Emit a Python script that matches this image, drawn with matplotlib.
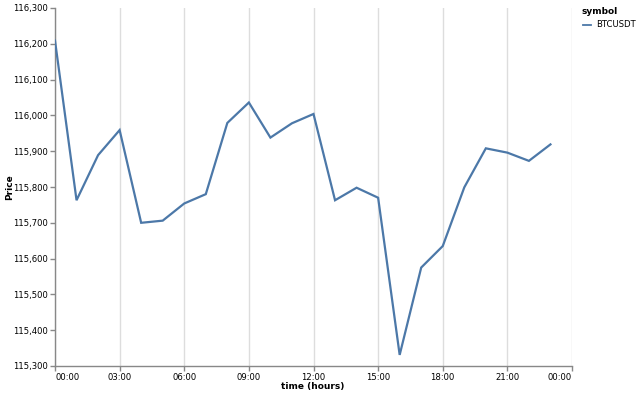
import matplotlib
matplotlib.use("Agg")
import matplotlib.pyplot as plt
from matplotlib.ticker import FuncFormatter
from matplotlib.lines import Line2D

hours = list(range(24))
price = [116209, 115763, 115889, 115959, 115700, 115706, 115754, 115780,
         115979, 116036, 115938, 115978, 116004, 115763, 115798, 115770,
         115331, 115575, 115635, 115799, 115908, 115896, 115873, 115919]
x_ticks = [0, 3, 6, 9, 12, 15, 18, 21, 24]
x_tick_labels = ["00:00", "03:00", "06:00", "09:00", "12:00", "15:00", "18:00", "21:00", "00:00"]
y_ticks = [115300, 115400, 115500, 115600, 115700, 115800, 115900, 116000, 116100, 116200, 116300]
series_name = "BTCUSDT"

plt.rcParams['font.family'] = ['DejaVu Sans']
W, H = 640, 395
fig = plt.figure(figsize=(W / 100, H / 100), dpi=100)
ax = fig.add_axes([55 / W, (H - 366) / H, (572 - 55) / W, (366 - 8) / H])

line_color = "#4c78a8"
ax.plot(hours, price, color=line_color, lw=1.6, solid_joinstyle="miter", zorder=3)

ax.set_xlim(0, 24)
ax.set_ylim(115300, 116300)
ax.set_xticks(x_ticks)
ax.set_xticklabels(x_tick_labels)
ax.set_yticks(y_ticks)
ax.yaxis.set_major_formatter(FuncFormatter(lambda v, p: f"{int(v):,}"))

labels = ax.get_xticklabels()
labels[0].set_horizontalalignment("left")
labels[-1].set_horizontalalignment("right")

ax.grid(axis="x", color="#dddddd", lw=1, zorder=0)
ax.grid(axis="y", visible=False)
for s in ["top", "right"]:
    ax.spines[s].set_visible(False)
for s in ["left", "bottom"]:
    ax.spines[s].set_color("#888888")
    ax.spines[s].set_linewidth(1)
ax.tick_params(axis="both", colors="#888888", length=3.6, width=1, labelsize=6.1,
               labelcolor="#000000", pad=1.5)

# axis titles
fig.text(313 / W, 1 - 387 / H, "time (hours)", fontsize=6.5, fontweight="bold",
         ha="center", va="center")
fig.text(10 / W, 1 - 187 / H, "Price", fontsize=6.5, fontweight="bold",
         ha="center", va="center", rotation=90)

# legend
fig.text(582 / W, 1 - 12 / H, "symbol", fontsize=6.5, fontweight="bold", va="center", ha="left")
fig.add_artist(Line2D([583 / W, 591 / W], [1 - 24.5 / H, 1 - 24.5 / H], color=line_color, lw=1.3))
fig.text(596 / W, 1 - 24.5 / H, series_name, fontsize=6.1, va="center", ha="left")

fig.savefig("out.png", dpi=100)
